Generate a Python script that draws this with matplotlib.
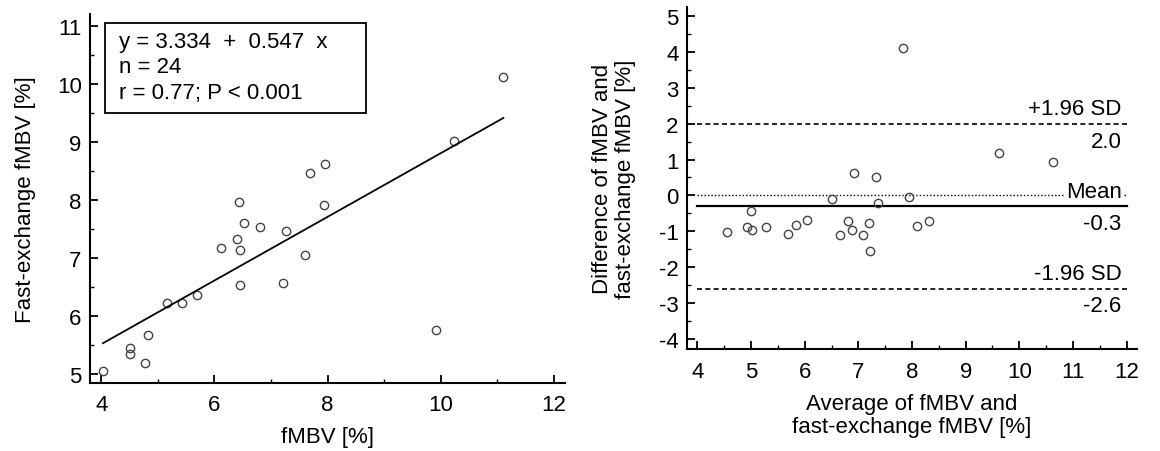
import matplotlib
matplotlib.use("Agg")
import matplotlib.pyplot as plt
import matplotlib.ticker as ticker
from matplotlib.patches import Rectangle
import numpy as np

plt.rcParams["font.family"] = ["Liberation Sans", "DejaVu Sans"]
plt.rcParams["axes.unicode_minus"] = False
FONT_SIZE = 16

# left panel: fMBV vs fast-exchange fMBV
fmbv = [4.03, 4.51, 4.50, 4.78, 4.83, 5.16, 5.42, 5.70, 6.11, 6.40, 6.45, 6.43,
        6.52, 6.46, 6.81, 7.27, 7.22, 7.60, 7.69, 7.94, 7.96, 9.91, 10.24, 11.11]
fast_fmbv = [5.06, 5.46, 5.35, 5.19, 5.68, 6.23, 6.23, 6.36, 7.17, 7.33, 7.14, 7.96,
             7.60, 6.54, 7.54, 7.46, 6.57, 7.06, 8.47, 7.92, 8.62, 5.77, 9.01, 10.11]
intercept = 3.334
slope = 0.547
n_obs = 24
r_value = 0.77

# right panel: Bland-Altman
ba_mean = [4.55, 4.93, 5.00, 5.01, 5.27, 5.69, 5.83, 6.04, 6.50, 6.65, 6.80, 6.88,
           6.91, 7.08, 7.19, 7.21, 7.33, 7.36, 7.84, 7.94, 8.10, 8.31, 9.63, 10.63]
ba_diff = [-1.03, -0.88, -0.43, -0.96, -0.88, -1.08, -0.82, -0.69, -0.11, -1.11, -0.72, -0.96,
           0.62, -1.11, -0.76, -1.56, 0.50, -0.22, 4.10, -0.04, -0.84, -0.72, 1.19, 0.94]
mean_diff = -0.31
upper_loa = 2.00
lower_loa = -2.60


def style_axis(ax, xpad):
    for side in ["top", "right"]:
        ax.spines[side].set_visible(False)
    for side in ["left", "bottom"]:
        ax.spines[side].set_linewidth(1.5)
    ax.tick_params(which="major", direction="in", length=5.5, width=1.3,
                   labelsize=FONT_SIZE, pad=6)
    ax.tick_params(axis="x", which="major", pad=xpad)
    ax.tick_params(which="minor", direction="in", length=3, width=1.0)


fig = plt.figure(figsize=(11.6, 4.52), dpi=100)

# ---- left: regression ----
ax1 = fig.add_axes([0.0776, 0.150, 0.4095, 0.817])
ax1.plot(fmbv, fast_fmbv, "o", mfc="none", mec="#444444", ms=6, mew=1.0)
x_line = np.array([min(fmbv), max(fmbv)])
ax1.plot(x_line, intercept + slope * x_line, color="black", lw=1.3)
ax1.set_xlim(3.8, 12.2)
ax1.set_ylim(4.85, 11.2)
ax1.xaxis.set_major_locator(ticker.MultipleLocator(2))
ax1.xaxis.set_minor_locator(ticker.MultipleLocator(1))
ax1.yaxis.set_major_locator(ticker.MultipleLocator(1))
ax1.yaxis.set_minor_locator(ticker.MultipleLocator(0.5))
style_axis(ax1, 7.5)
ax1.set_xlabel("fMBV [%]", fontsize=FONT_SIZE, labelpad=8)
ax1.set_ylabel("Fast-exchange fMBV [%]", fontsize=FONT_SIZE, labelpad=15)

ax1.add_patch(Rectangle((0.032, 0.732), 0.549, 0.244, transform=ax1.transAxes,
                        fill=False, lw=1.3, ec="black"))
stats_text = (f"y = {intercept:.3f}  +  {slope:.3f}  x\n"
              f"n = {n_obs}\n"
              f"r = {r_value:.2f}; P < 0.001")
ax1.text(0.061, 0.955, stats_text, transform=ax1.transAxes, fontsize=FONT_SIZE,
         va="top", ha="left", linespacing=1.3)

# ---- right: Bland-Altman ----
ax2 = fig.add_axes([0.592, 0.226, 0.388, 0.756])
ax2.plot(ba_mean, ba_diff, "o", mfc="none", mec="#444444", ms=6, mew=1.0, zorder=3)
ax2.set_xlim(3.8, 12.19)
ax2.set_ylim(-4.28, 5.25)
line_x = [4, 12]
ax2.plot(line_x, [0, 0], color="black", lw=1.0, linestyle=(0, (1, 1.5)), zorder=1)
ax2.plot(line_x, [mean_diff, mean_diff], color="black", lw=1.6, zorder=2)
ax2.plot(line_x, [upper_loa, upper_loa], color="black", lw=1.2, linestyle=(0, (3, 2)))
ax2.plot(line_x, [lower_loa, lower_loa], color="black", lw=1.2, linestyle=(0, (3, 2)))

labels = [
    (upper_loa, "+1.96 SD", f"{upper_loa:.1f}"),
    (mean_diff, "Mean", f"{mean_diff:.1f}"),
    (lower_loa, "-1.96 SD", f"{lower_loa:.1f}"),
]
for yv, top_lab, bot_lab in labels:
    ax2.annotate(top_lab, (12, yv), xytext=(-3.5, 11), textcoords="offset points",
                 ha="right", va="center", fontsize=FONT_SIZE, zorder=4,
                 bbox=dict(boxstyle="square,pad=0.05", fc="white", ec="none")
                 if top_lab == "Mean" else None)
    ax2.annotate(bot_lab, (12, yv), xytext=(-3.5, -12.5), textcoords="offset points",
                 ha="right", va="center", fontsize=FONT_SIZE, zorder=4)

ax2.xaxis.set_major_locator(ticker.MultipleLocator(1))
ax2.xaxis.set_minor_locator(ticker.MultipleLocator(0.5))
ax2.yaxis.set_major_locator(ticker.MultipleLocator(1))
ax2.yaxis.set_minor_locator(ticker.MultipleLocator(0.5))
style_axis(ax2, 8.5)
ax2.set_xlabel("Average of fMBV and\nfast-exchange fMBV [%]", fontsize=FONT_SIZE,
               labelpad=8, linespacing=1.15)
ax2.set_ylabel("Difference of fMBV and\nfast-exchange fMBV [%]", fontsize=FONT_SIZE,
               labelpad=16, linespacing=1.15)

fig.savefig("out.png", dpi=100)
